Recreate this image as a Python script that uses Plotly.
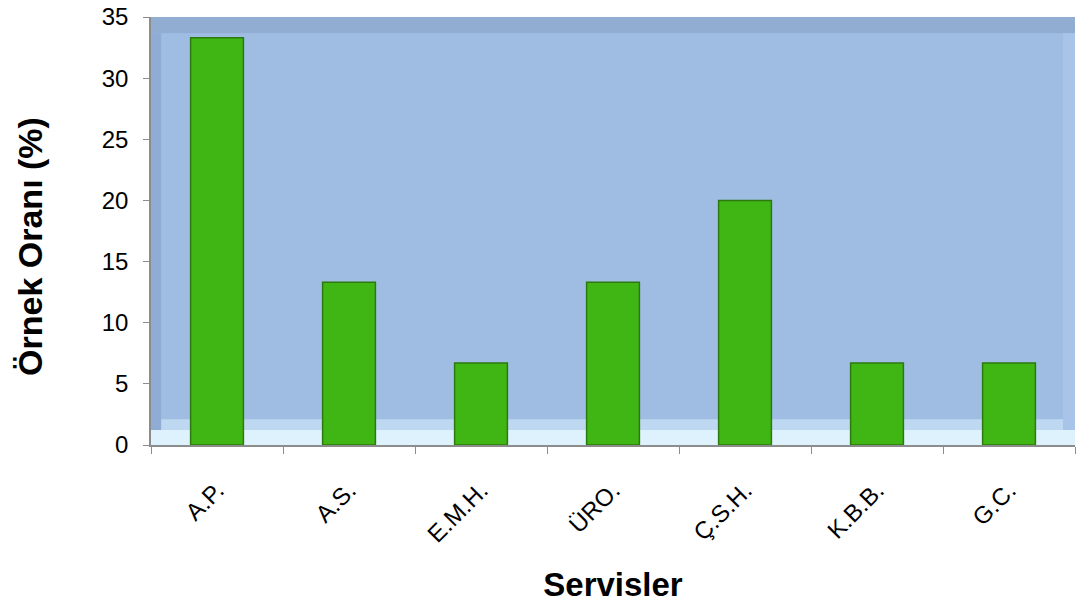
import plotly.graph_objects as go

categories = ["A.P.", "A.S.", "E.M.H.", "ÜRO.", "Ç.S.H.", "K.B.B.", "G.C."]
values = [33.3, 13.3, 6.7, 13.3, 20.0, 6.7, 6.7]
y_ticks = [0, 5, 10, 15, 20, 25, 30, 35]

fig = go.Figure()
fig.add_trace(go.Bar(
    x=categories, y=values,
    marker=dict(color="#3FB614", line=dict(color="#2C7A0E", width=1.5)),
    width=0.4,
))

shapes = [
    # bottom floor light band
    dict(type="rect", xref="x domain", yref="y domain", x0=0, x1=1, y0=0, y1=0.035,
         fillcolor="#DDF2FC", line=dict(width=0), layer="below"),
    dict(type="rect", xref="x domain", yref="y domain", x0=0, x1=1, y0=0.035, y1=0.06,
         fillcolor="#BED8F1", line=dict(width=0), layer="below"),
    # top darker band
    dict(type="rect", xref="x domain", yref="y domain", x0=0, x1=1, y0=0.962, y1=1,
         fillcolor="#91AED2", line=dict(width=0), layer="below"),
    # left band
    dict(type="rect", xref="x domain", yref="y domain", x0=0, x1=0.011, y0=0.035, y1=0.962,
         fillcolor="#8FADD4", line=dict(width=0), layer="below"),
    # right band
    dict(type="rect", xref="x domain", yref="y domain", x0=0.987, x1=1, y0=0.035, y1=0.962,
         fillcolor="#A8C4E9", line=dict(width=0), layer="below"),
]

fig.update_layout(
    width=1076, height=610,
    margin=dict(l=151, r=1, t=17, b=165),
    paper_bgcolor="white",
    plot_bgcolor="#9FBDE3",
    showlegend=False,
    shapes=shapes,
    bargap=0.6,
    font=dict(family="Liberation Sans, Arial, sans-serif", color="black"),
    annotations=[dict(
        text="<b>Örnek Oranı (%)</b>", xref="paper", yref="paper",
        x=-0.131, y=0.465, textangle=-90, showarrow=False,
        font=dict(size=34), xanchor="center", yanchor="middle",
    )],
    xaxis=dict(
        title=dict(text="<b>Servisler</b>", font=dict(size=33), standoff=26),
        tickangle=-45, tickfont=dict(size=24),
        ticklabelstandoff=20,
        showline=True, linecolor="#8C8C8C", linewidth=1.5,
        ticks="outside", tickson="boundaries", ticklen=7, tickcolor="#8C8C8C",
        showgrid=False,
    ),
    yaxis=dict(
        range=[0, 35], tickvals=y_ticks, tickfont=dict(size=24),
        ticklabelstandoff=10,
        showline=True, linecolor="#8C8C8C", linewidth=1.5,
        ticks="outside", ticklen=6, tickcolor="#8C8C8C",
        showgrid=False, zeroline=False,
    ),
)

fig.write_html("out.html")
